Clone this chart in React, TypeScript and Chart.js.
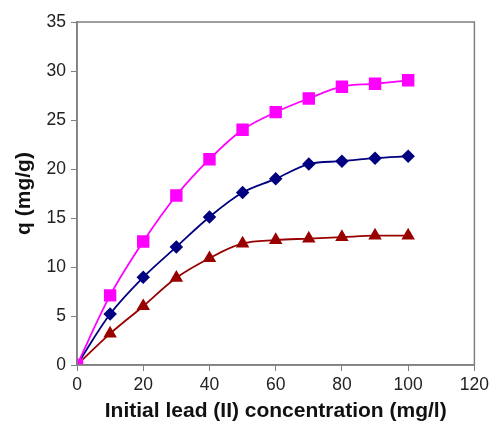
import React, { useEffect, useRef } from "react";
import { Chart, registerables } from "chart.js";

Chart.register(...registerables);

const concentrations = [0, 10, 20, 30, 40, 50, 60, 70, 80, 90, 100];
const seriesMagenta = [0, 7.1, 12.6, 17.3, 21.0, 24.0, 25.8, 27.2, 28.4, 28.7, 29.05];
const seriesNavy = [0, 5.2, 8.95, 12.05, 15.1, 17.6, 19.0, 20.5, 20.8, 21.1, 21.3];
const seriesRed = [0, 3.2, 6.0, 8.9, 10.9, 12.4, 12.75, 12.9, 13.05, 13.2, 13.2];
const xTitle = "Initial lead (II) concentration (mg/l)";
const yTitle = "q (mg/g)";

const frame = {
  id: "frame",
  afterDatasetsDraw(chart: any) {
    const { ctx, chartArea } = chart;
    ctx.save();
    ctx.strokeStyle = "#7f7f7f";
    ctx.lineWidth = 1.5;
    ctx.strokeRect(chartArea.left, chartArea.top, chartArea.right - chartArea.left, chartArea.bottom - chartArea.top);
    ctx.restore();
  },
};

export default function App() {
  const ref = useRef<HTMLCanvasElement>(null);
  useEffect(() => {
    const mk = (data: number[]) => data.map((y, i) => ({ x: concentrations[i], y }));
    const chart = new Chart(ref.current!, {
      type: "line",
      data: {
        datasets: [
          {
            data: mk(seriesMagenta),
            borderColor: "#ff00ff",
            backgroundColor: "#ff00ff",
            pointStyle: "rect",
            pointRadius: 7.5,
            borderWidth: 1.8,
            tension: 0.35,
          },
          {
            data: mk(seriesNavy),
            borderColor: "#000080",
            backgroundColor: "#000080",
            pointStyle: "rectRot",
            pointRadius: 5.5,
            borderWidth: 1.8,
            tension: 0.35,
          },
          {
            data: mk(seriesRed),
            borderColor: "#990000",
            backgroundColor: "#990000",
            pointStyle: "triangle",
            pointRadius: 6,
            borderWidth: 1.8,
            tension: 0.35,
          },
        ],
      },
      options: {
        animation: false,
        responsive: false,
        maintainAspectRatio: false,
        layout: { padding: { top: 22, right: 18, left: 0, bottom: 0 } },
        plugins: { legend: { display: false }, tooltip: { enabled: false } },
        scales: {
          x: {
            type: "linear",
            min: 0,
            max: 120,
            ticks: { stepSize: 20, color: "#222", font: { family: "Arial, Liberation Sans", size: 17.5 }, padding: 4 },
            grid: { drawOnChartArea: false, drawTicks: true, tickLength: 6, color: "#7f7f7f" },
            border: { color: "#7f7f7f", width: 1.5 },
            title: { display: true, text: xTitle, color: "#111", font: { family: "Arial, Liberation Sans", size: 21, weight: "bold", lineHeight: 1 }, padding: { top: 0, bottom: 0.5 } },
            afterFit: (s: any) => { s.height = 57; },
          },
          y: {
            min: 0,
            max: 35,
            ticks: { stepSize: 5, color: "#222", font: { family: "Arial, Liberation Sans", size: 17.5 }, padding: 5 },
            grid: { drawOnChartArea: false, drawTicks: true, tickLength: 6, color: "#7f7f7f" },
            border: { color: "#7f7f7f", width: 1.5 },
            title: { display: true, text: yTitle, color: "#111", font: { family: "Arial, Liberation Sans", size: 21, weight: "bold", lineHeight: 1 }, padding: { top: 13.5, bottom: 0 } },
            afterFit: (s: any) => { s.width = 77; },
          },
        },
      },
      plugins: [frame],
    });
    return () => chart.destroy();
  }, []);
  return (
    <div style={{ position: "fixed", left: 0, top: 0, width: 493, height: 422, background: "#fff" }}>
      <canvas ref={ref} width={493} height={422} style={{ display: "block" }} />
    </div>
  );
}
